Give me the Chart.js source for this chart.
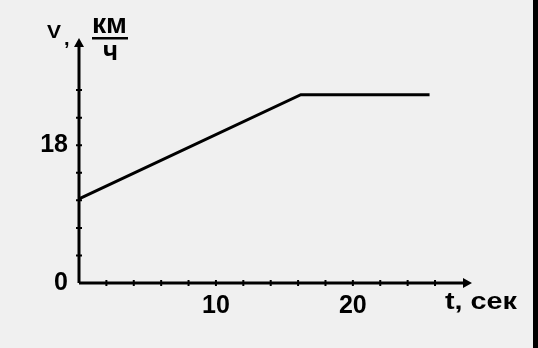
<!DOCTYPE html>
<html>
<head>
<meta charset="utf-8">
<script src="https://cdn.jsdelivr.net/npm/chart.js@4"></script>
<style>
  body { margin: 0; background: #f0f0f0; }
  #wrap { position: relative; width: 538px; height: 348px; }
  #edge { position: absolute; left: 533px; top: 0; width: 5px; height: 348px; background: #000; }
</style>
</head>
<body>
<div id="wrap">
  <canvas id="chart" width="538" height="348"></canvas>
  <div id="edge"></div>
</div>
<script>
// time, s and speed, km/h
const tValues = [0, 16.2, 25.6];
const vValues = [11, 24.6, 24.6];
const xLabels = [10, 20];
const yLabels = [0, 18];

const FAMILY = '"Liberation Sans", Arial, sans-serif';
const tickFont = { family: FAMILY, size: 25, weight: 'bold' };

// draw text squeezed/stretched to a given width
function fitText(ctx, text, x, y, width) {
  const w = ctx.measureText(text).width;
  ctx.save();
  ctx.translate(x, y);
  ctx.scale(width / w, 1);
  ctx.fillText(text, 0, 0);
  ctx.restore();
}

// axes with arrows, cross ticks and the axis captions
const axesPlugin = {
  id: 'axes',
  afterDraw(chart) {
    const ctx = chart.ctx;
    const xs = chart.scales.x, ys = chart.scales.y;
    const x0 = xs.getPixelForValue(0), y0 = ys.getPixelForValue(0);
    const xEnd = xs.right, yTop = ys.top;
    ctx.save();
    ctx.strokeStyle = '#000';
    ctx.fillStyle = '#000';
    ctx.lineWidth = 3;
    ctx.beginPath();
    ctx.moveTo(x0, y0); ctx.lineTo(xEnd - 6, y0);
    ctx.moveTo(x0, y0); ctx.lineTo(x0, yTop + 6);
    ctx.stroke();
    // arrow heads
    ctx.beginPath();
    ctx.moveTo(xEnd, y0); ctx.lineTo(xEnd - 9, y0 - 5); ctx.lineTo(xEnd - 9, y0 + 5); ctx.closePath();
    ctx.moveTo(x0, yTop); ctx.lineTo(x0 - 5, yTop + 9); ctx.lineTo(x0 + 5, yTop + 9); ctx.closePath();
    ctx.fill();
    // cross ticks
    ctx.lineWidth = 2;
    ctx.beginPath();
    xs.ticks.forEach(t => {
      if (t.value <= 0 || t.value > xs.max - 1) return;
      const p = xs.getPixelForValue(t.value);
      ctx.moveTo(p, y0 - 3); ctx.lineTo(p, y0 + 3);
    });
    ys.ticks.forEach(t => {
      if (t.value <= 0 || t.value > ys.max - 1) return;
      const p = ys.getPixelForValue(t.value);
      ctx.moveTo(x0 - 3, p); ctx.lineTo(x0 + 3, p);
    });
    ctx.stroke();
    // captions
    ctx.textBaseline = 'alphabetic';
    ctx.font = 'bold 19px ' + FAMILY;
    fitText(ctx, 'V', 47, 38, 14);
    ctx.font = 'bold 20px ' + FAMILY;
    ctx.fillText(',', 64, 45);
    ctx.font = 'bold 28px ' + FAMILY;
    fitText(ctx, 'км', 92, 33, 35);
    fitText(ctx, 'ч', 103, 60, 15);
    ctx.fillRect(92, 37, 36, 2.5);
    ctx.font = 'bold 24px ' + FAMILY;
    fitText(ctx, 't, сек', 445, 309, 72);
    ctx.restore();
  }
};

new Chart(document.getElementById('chart'), {
  type: 'line',
  data: {
    datasets: [{
      data: tValues.map((t, i) => ({ x: t, y: vValues[i] })),
      borderColor: '#000',
      borderWidth: 3,
      pointRadius: 0,
      tension: 0,
      clip: false
    }]
  },
  options: {
    responsive: false,
    animation: false,
    layout: { padding: { top: 38, right: 66, left: 0, bottom: 0 } },
    plugins: { legend: { display: false }, tooltip: { enabled: false } },
    scales: {
      x: {
        type: 'linear', min: 0, max: 28.7,
        grid: { display: false, drawTicks: false }, border: { display: false },
        afterFit: s => { s.height = 65; },
        ticks: {
          stepSize: 2, autoSkip: false, maxRotation: 0, padding: 8,
          color: '#000', font: tickFont,
          callback: v => xLabels.includes(Math.round(v * 100) / 100) ? String(v) : ''
        }
      },
      y: {
        type: 'linear', min: 0, max: 32,
        grid: { display: false, drawTicks: false }, border: { display: false },
        afterFit: s => { s.width = 79; },
        ticks: {
          stepSize: 3.6, autoSkip: false, padding: 11,
          color: '#000', font: tickFont,
          callback: v => {
            const r = Math.round(v * 100) / 100;
            return yLabels.includes(r) ? String(r) : '';
          }
        }
      }
    }
  },
  plugins: [axesPlugin]
});
</script>
</body>
</html>
